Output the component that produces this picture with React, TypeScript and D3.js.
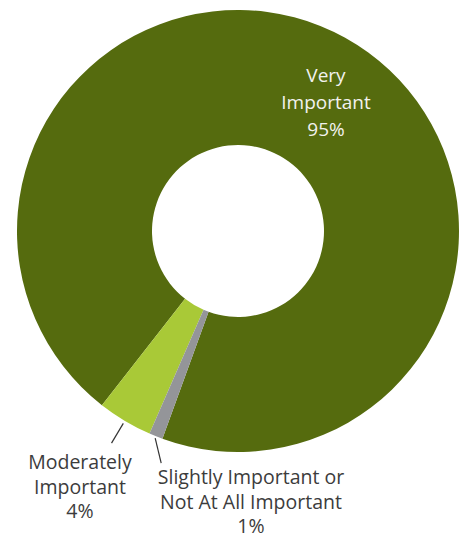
import React from "react";
import * as d3 from "d3";

const categories = ["Very Important", "Moderately Important", "Slightly Important or Not At All Important"];
const values = [95, 4, 1];
const labelLines = [["Very", "Important", "95%"], ["Moderately", "Important", "4%"], ["Slightly Important or", "Not At All Important", "1%"]];
const colors = ["#556B0E", "#A9C937", "#949599"];

const W = 465, H = 533;
const cx = 238, cy = 231, R = 221, r0 = 86;

export default function App() {
  const pie = d3.pie<number>().sort(null).value((d) => d)
    .startAngle((200 * Math.PI) / 180).endAngle((200 * Math.PI) / 180 - 2 * Math.PI);
  const arcs = pie(values);
  const arc = d3.arc<d3.PieArcDatum<number>>().innerRadius(r0).outerRadius(R);
  const polar = (a: number, rr: number) => [Math.sin(a) * rr, -Math.cos(a) * rr];
  const mid = (d: d3.PieArcDatum<number>) => (d.startAngle + d.endAngle) / 2;

  const modMid = mid(arcs[1]);
  const slMid = mid(arcs[2]);
  const [m1x, m1y] = polar(modMid, 224);
  const [m2x, m2y] = polar(modMid, 247);
  const [s1x, s1y] = polar(slMid, 223);

  return (
    <svg width={W} height={H} style={{ position: "absolute", left: 0, top: 0 }} fontFamily="'Open Sans', sans-serif">
      <g transform={`translate(${cx},${cy})`}>
        {arcs.map((a, i) => (
          <path key={categories[i]} d={arc(a) || ""} fill={colors[i]} />
        ))}
        <line x1={m1x} y1={m1y} x2={m2x} y2={m2y} stroke="#333" strokeWidth={1.2} />
        <line x1={s1x} y1={s1y} x2={s1x + 6} y2={s1y + 25} stroke="#333" strokeWidth={1.2} />
      </g>
      <text x={326} textAnchor="middle" fill="#f2f2ee" fontSize={19}>
        {labelLines[0].map((t, j) => (
          <tspan key={j} x={326} y={82 + j * 27}>{t}</tspan>
        ))}
      </text>
      <text textAnchor="middle" fill="#3c3c3c" fontSize={19.5}>
        {labelLines[1].map((t, j) => (
          <tspan key={j} x={80} y={469 + j * 24.5}>{t}</tspan>
        ))}
      </text>
      <text textAnchor="middle" fill="#3c3c3c" fontSize={19.5}>
        {labelLines[2].map((t, j) => (
          <tspan key={j} x={251} y={484 + j * 24.5}>{t}</tspan>
        ))}
      </text>
    </svg>
  );
}
